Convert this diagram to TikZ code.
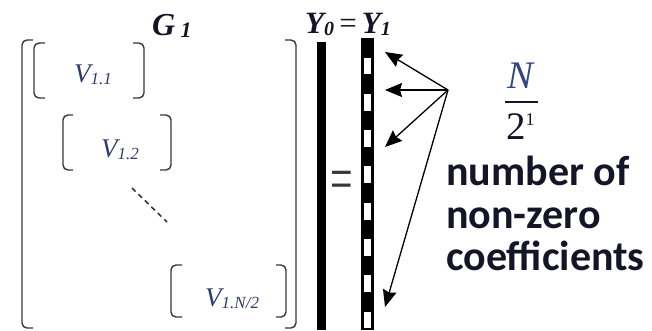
\documentclass[tikz,border=0pt]{standalone}
\usepackage{fontspec}
\usepackage{graphicx}
\setmainfont{Liberation Serif}
\newfontfamily\calib{Carlito}
\usetikzlibrary{arrows.meta}
\definecolor{vblue}{RGB}{45,60,110}
\definecolor{nblue}{RGB}{50,70,130}
\definecolor{ink}{RGB}{20,22,40}
\definecolor{brk}{RGB}{55,55,55}
\begin{document}
\begin{tikzpicture}[x=1pt,y=-1pt,
  brack/.style={draw=brk,line width=1.4pt,rounded corners=5pt},
  lbl/.style={inner sep=0pt,anchor=base west},
  ptr/.style={draw=black,line width=1.3pt,-{Stealth[length=17pt,width=14pt,inset=2pt]}},
  wtxt/.style={inner sep=0pt,anchor=base west,text=ink,font=\calib\bfseries\fontsize{42}{42}\selectfont},
  vlab/.style={inner sep=0pt,anchor=base west,text=vblue,font=\fontsize{27}{27}\selectfont\itshape},
]
\useasboundingbox (0,0) rectangle (652,330);
% matrix brackets
\draw[brack] (33,40) -- (22,40) -- (22,328) -- (33,328);
\draw[brack] (285,40) -- (296,40) -- (296,328) -- (285,328);
\draw[brack] (45,43) -- (34,43) -- (34,98) -- (45,98);
\draw[brack] (133,43) -- (144,43) -- (144,98) -- (133,98);
\draw[brack] (73,115) -- (63,115) -- (63,170) -- (73,170);
\draw[brack] (160,115) -- (171,115) -- (171,170) -- (160,170);
\draw[brack] (182,265) -- (171,265) -- (171,317) -- (182,317);
\draw[brack] (276,265) -- (286,265) -- (286,317) -- (276,317);
\draw[brk,line width=1.6pt,dash pattern=on 5pt off 4pt] (132,188) -- (167,222);
% labels
\node[vlab] (v11) at (74,82) {V\raisebox{-2pt}{\fontsize{17}{17}\selectfont 1.1}};
\node[vlab] (v12) at (101,157) {V\raisebox{-2pt}{\fontsize{17}{17}\selectfont 1.2}};
\node[vlab] (v1n) at (205,306) {V\raisebox{-2pt}{\fontsize{17}{17}\selectfont 1.N/2}};
\node[lbl,text=ink] (g) at (152,35) {\fontsize{32}{32}\selectfont\bfseries\itshape G\,\raisebox{-2pt}{\fontsize{22}{22}\selectfont 1}};
\node[lbl,text=ink] (y) at (305,33) {\fontsize{31}{31}\selectfont\bfseries\itshape Y\raisebox{-2pt}{\fontsize{20}{20}\selectfont 0}\,{\upshape\mdseries =}\,Y\raisebox{-2pt}{\fontsize{20}{20}\selectfont 1}};
% vectors
\fill[black] (317,42) rectangle (326,330);
\fill[black] (361,38) rectangle (373.5,330);
\foreach \k in {0,...,7}
  \fill[white] (363.5,{57.5+36.3*\k}) rectangle (371,{74.3+36.3*\k});
\node[inner sep=0pt,text=brk] (eq) at (342,186) {\fontsize{40}{40}\selectfont\scalebox{1}[1.6]{=}};
% arrows
\coordinate (src) at (448,90);
\coordinate (t1) at (385,52);
\coordinate (t2) at (385,90);
\coordinate (t3) at (385,147);
\coordinate (t4) at (385,307);
\draw[ptr] (src) -- (t1);
\draw[ptr] (src) -- (t2);
\draw[ptr] (src) -- (t3);
\draw[ptr] (src) -- (t4);
% fraction
\node[lbl,text=nblue] (nn) at (507,88) {\fontsize{39}{39}\selectfont\itshape N};
\draw[ink,line width=1.4pt] (505,102) -- (538,102);
\node[lbl,text=ink] (two) at (506,139) {\fontsize{39}{39}\selectfont 2\raisebox{14pt}{\fontsize{18}{18}\selectfont 1}};
% text
\node[wtxt] (l1) at (446,185) {number of};
\node[wtxt] (l2) at (446,228) {non-zero};
\node[wtxt] (l3) at (446,270) {coefficients};
\end{tikzpicture}
\end{document}
